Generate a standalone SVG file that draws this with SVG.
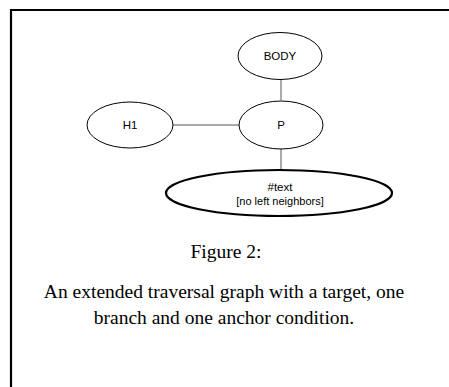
<svg xmlns="http://www.w3.org/2000/svg" width="449" height="387" viewBox="0 0 449 387">
  <style>
    .node ellipse { fill: #ffffff; stroke: #000000; stroke-width: 1; }
    .node.target ellipse { stroke-width: 2.2; }
    .label { font-family: "Liberation Sans", Arial, sans-serif; font-size: 11.5px; fill: #000000; text-anchor: middle; }
    .sub { font-size: 11px; }
    .edge { stroke: #555555; stroke-width: 1; fill: none; }
    .caption { font-family: "Liberation Serif", "Times New Roman", serif; font-size: 19.5px; fill: #000000; text-anchor: middle; }
  </style>

  <rect x="0" y="0" width="449" height="387" fill="#ffffff"/>

  <!-- frame -->
  <path d="M11 387 V10 H449" fill="none" stroke="#000000" stroke-width="2.2"/>

  <!-- connectors -->
  <g id="edges">
    <line class="edge" x1="281" y1="79" x2="281" y2="100"/>
    <line class="edge" x1="173" y1="125" x2="239" y2="125"/>
    <line class="edge" x1="281" y1="149" x2="281" y2="170"/>
  </g>

  <g id="node-body" class="node">
    <ellipse cx="280" cy="56" rx="42" ry="23.5"/>
    <text class="label" x="280" y="60">BODY</text>
  </g>

  <g id="node-h1" class="node">
    <ellipse cx="130" cy="125" rx="43" ry="23"/>
    <text class="label" x="130" y="129">H1</text>
  </g>

  <g id="node-p" class="node">
    <ellipse cx="281" cy="125" rx="42" ry="24"/>
    <text class="label" x="281" y="129">P</text>
  </g>

  <g id="node-text" class="node target">
    <ellipse cx="279" cy="193" rx="113" ry="23"/>
    <text class="label" x="280" y="191">#text</text>
    <text class="label sub" x="280" y="205">[no left neighbors]</text>
  </g>

  <!-- caption -->
  <text class="caption" x="226" y="258">Figure 2:</text>
  <text class="caption" x="224" y="298">An extended traversal graph with a target, one</text>
  <text class="caption" x="224" y="324">branch and one anchor condition.</text>
</svg>
